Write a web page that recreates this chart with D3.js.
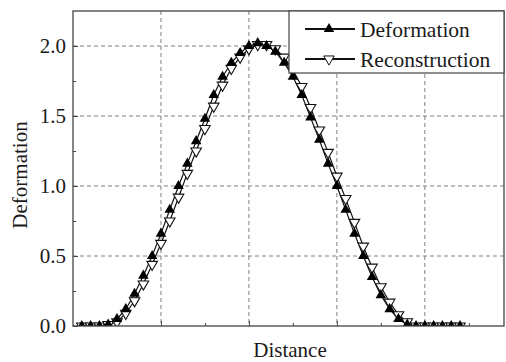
<!DOCTYPE html>
<html>
<head>
<meta charset="utf-8">
<script src="https://cdn.jsdelivr.net/npm/d3@7/dist/d3.min.js"></script>
<style>
  body { margin: 0; background: #fff; }
  text { font-family: "Liberation Serif", "Times New Roman", serif; fill: #1a1a1a; }
</style>
</head>
<body>
<svg id="chart"></svg>
<script>
// sample index along the profile
var distance = d3.range(1, 45);
var deformation = [0, 0, 0, 0.01, 0.05, 0.12, 0.23, 0.36, 0.50, 0.66, 0.83, 1.00, 1.16, 1.32, 1.48,
  1.65, 1.78, 1.88, 1.95, 2.00, 2.02, 2.00, 1.96, 1.88, 1.78, 1.65, 1.49, 1.33, 1.16, 1.00,
  0.83, 0.66, 0.50, 0.35, 0.22, 0.12, 0.05, 0.01, 0, 0, 0, 0, 0, 0];
var reconstruction = [0, 0, 0, 0.01, 0.03, 0.09, 0.18, 0.30, 0.44, 0.59, 0.75, 0.92, 1.09, 1.25, 1.41,
  1.57, 1.72, 1.84, 1.92, 1.98, 2.01, 2.01, 1.98, 1.92, 1.83, 1.71, 1.56, 1.40, 1.24, 1.07,
  0.91, 0.74, 0.57, 0.42, 0.28, 0.17, 0.08, 0.03, 0, 0, 0, 0, 0, 0];
var yTicks = [0, 0.5, 1.0, 1.5, 2.0];
var xTicks = [10, 20, 30, 40];
var seriesNames = ["Deformation", "Reconstruction"];

var width = 506, height = 362;
var m = { left: 73, right: 504, top: 11, bottom: 326 };

var svg = d3.select("#chart").attr("width", width).attr("height", height);

var x = d3.scaleLinear().domain([0, 49]).range([m.left, m.right]);
var y = d3.scaleLinear().domain([0, 2.25]).range([m.bottom, m.top]);

svg.append("clipPath").attr("id", "plot")
  .append("rect").attr("x", m.left).attr("y", m.top)
  .attr("width", m.right - m.left).attr("height", m.bottom - m.top);

// grid
var grid = svg.append("g").attr("stroke", "#808080").attr("stroke-dasharray", "4,3").attr("stroke-width", 1);
grid.selectAll(".gx").data(xTicks).enter().append("line")
  .attr("x1", function(d) { return x(d); }).attr("x2", function(d) { return x(d); })
  .attr("y1", m.top).attr("y2", m.bottom);
grid.selectAll(".gy").data(yTicks.slice(1)).enter().append("line")
  .attr("x1", m.left).attr("x2", m.right)
  .attr("y1", function(d) { return y(d); }).attr("y2", function(d) { return y(d); });

// axes, ticks pointing inward
svg.append("g").attr("transform", "translate(" + m.left + ",0)")
  .call(d3.axisRight(y).tickValues(yTicks).tickSize(5).tickFormat(""));
svg.append("g").attr("transform", "translate(" + m.left + ",0)")
  .call(d3.axisRight(y).tickValues(d3.range(0.25, 2.25, 0.5)).tickSize(3).tickFormat(""));
svg.append("g").attr("transform", "translate(0," + m.bottom + ")")
  .call(d3.axisTop(x).tickValues(xTicks).tickSize(5).tickFormat(""));
svg.append("g").attr("transform", "translate(0," + m.bottom + ")")
  .call(d3.axisTop(x).tickValues([5, 15, 25, 35, 45]).tickSize(3).tickFormat(""));
svg.selectAll(".domain").remove();
svg.selectAll(".tick line").attr("stroke", "#444");

svg.selectAll(".ylab").data(yTicks).enter().append("text")
  .attr("x", 66).attr("y", function(d) { return y(d); }).attr("dy", "0.35em")
  .attr("text-anchor", "end").attr("font-size", 21)
  .text(function(d) { return d3.format(".1f")(d); });

// series
var line = d3.line()
  .x(function(d, i) { return x(distance[i]); })
  .y(function(d) { return y(d); });
var tri = d3.symbol().type(d3.symbolTriangle).size(48);

var plot = svg.append("g").attr("clip-path", "url(#plot)");
plot.append("path").datum(reconstruction).attr("d", line)
  .attr("fill", "none").attr("stroke", "#111").attr("stroke-width", 1.2);
plot.append("path").datum(deformation).attr("d", line)
  .attr("fill", "none").attr("stroke", "#111").attr("stroke-width", 1.2);
plot.selectAll(".rec").data(reconstruction).enter().append("path")
  .attr("d", tri)
  .attr("transform", function(d, i) { return "translate(" + x(distance[i]) + "," + y(d) + ") rotate(180)"; })
  .attr("fill", "#fff").attr("stroke", "#111").attr("stroke-width", 1.1);
plot.selectAll(".def").data(deformation).enter().append("path")
  .attr("d", tri)
  .attr("transform", function(d, i) { return "translate(" + x(distance[i]) + "," + y(d) + ")"; })
  .attr("fill", "#000");

// frame
svg.append("rect").attr("x", m.left).attr("y", m.top)
  .attr("width", m.right - m.left).attr("height", m.bottom - m.top)
  .attr("fill", "none").attr("stroke", "#444").attr("stroke-width", 1.3);

// legend
var legend = svg.append("g");
legend.append("rect").attr("x", 289).attr("y", m.top).attr("width", m.right - 289).attr("height", 62)
  .attr("fill", "#fff").attr("stroke", "#444").attr("stroke-width", 1.2);
seriesNames.forEach(function(name, i) {
  var ly = 29 + i * 30;
  legend.append("line").attr("x1", 305).attr("x2", 355).attr("y1", ly).attr("y2", ly)
    .attr("stroke", "#111").attr("stroke-width", 2);
  legend.append("path").attr("d", tri)
    .attr("transform", "translate(329," + ly + ")" + (i ? " rotate(180)" : ""))
    .attr("fill", i ? "#fff" : "#000").attr("stroke", i ? "#111" : "none");
  legend.append("text").attr("x", 360).attr("y", ly).attr("dy", "0.35em")
    .attr("font-size", 21.5).text(name);
});

// axis titles
svg.append("text").attr("x", 290).attr("y", 357).attr("text-anchor", "middle")
  .attr("font-size", 21).text("Distance");
svg.append("text").attr("transform", "translate(27,175) rotate(-90)")
  .attr("text-anchor", "middle").attr("font-size", 21).text("Deformation");
</script>
</body>
</html>
